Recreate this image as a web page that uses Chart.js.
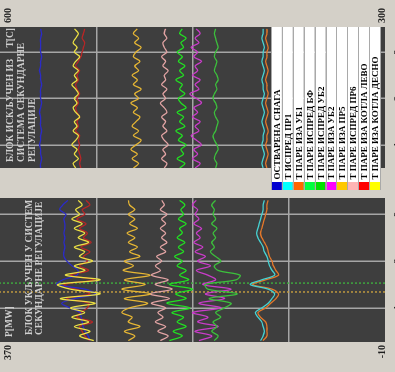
<!DOCTYPE html>
<html lang="sr">
<head>
<meta charset="utf-8">
<script src="https://cdn.jsdelivr.net/npm/chart.js@4.4.1/dist/chart.umd.min.js"></script>
<style>
html,body{margin:0;padding:0;width:395px;height:372px;overflow:hidden;background:#d4d0c8;}
#frame{position:absolute;left:0;top:0;width:372px;height:410px;transform-origin:0 0;transform:translate(0,372px) rotate(-90deg);}
#wrapOn{position:absolute;left:0;top:0;width:176px;height:410px;}
#wrapOff{position:absolute;left:176px;top:0;width:196px;height:410px;}
canvas{display:block;}
</style>
</head>
<body>
<div id="frame">
  <div id="wrapOn"><canvas id="chartOn" width="176" height="410"></canvas></div>
  <div id="wrapOff"><canvas id="chartOff" width="196" height="410"></canvas></div>
</div>
<script>
// ---- series names and colours (legend order) ----
const seriesLabels = [
  'ОСТВАРЕНА СНАГА',
  'Т ИСПРЕД ПР1',
  'Т ПАРЕ ИЗА УБ1',
  'Т ПАРЕ ИСПРЕД БФ',
  'Т ПАРЕ ИСПРЕД УБ2',
  'Т ПАРЕ ИЗА УБ2',
  'Т ПАРЕ ИЗА ПР5',
  'Т ПАРЕ ИСПРЕД ПР6',
  'Т ПАРЕ ИЗА КОТЛА ЛЕВО',
  'Т ПАРЕ ИЗА КОТЛА ДЕСНО'
];
const lineColors   = ['#2b2bc8','#46d2d2','#e4782a','#3cbf3c','#22e022','#c93cc9','#e6b634','#e2a4a4','#b82626','#ece044'];
const swatchColors = ['#0000d0','#00ffff','#ff6600','#00ff40','#00e000','#ff00ff','#ffc800','#ffb4b4','#ff0000','#ffff00'];

// ---- time axis ----
const timeTicks = [1, 2, 3];
const timeOn  = [0.3,0.4,0.5,0.6,0.7,0.8,0.9,1.0,1.1,1.2,1.3,1.4,1.5,1.6,1.7,1.8,1.9,2.0,2.1,2.2,2.3,2.4,2.5,2.6,2.7,2.8,2.9,3.0,3.1,3.2,3.3];
const timeOff = [0.5,0.6,0.7,0.8,0.9,1.0,1.1,1.2,1.3,1.4,1.5,1.6,1.7,1.8,1.9,2.0,2.1,2.2,2.3,2.4,2.5,2.6,2.7,2.8,2.9,3.0,3.1,3.2,3.3,3.4,3.5];
const markerTimes  = [1.34, 1.53];
const markerColors = ['#c8a040', '#3fae3f'];

// ---- value axes ----
const powerTicks = [-10, 85, 180, 275, 370];
const tempTicks  = [300, 375, 450, 525, 600];

// ---- block in secondary regulation ----
const powerOn   = [281,283,286,288,289,290,291,301,309,296,276,286,314,308,294,293,299,304,307,307,306,307,306,307,306,306,307,305,311,308,303];
const tPr1On    = [397,395,394,395,396,399,401,396,391,388,386,391,405,396,386,388,390,391,392,394,395,397,399,400,399,398,397,396,395,395,394];
const tUb1On    = [395,392,392,392,393,397,399,393,389,385,383,388,403,393,383,385,387,388,390,391,392,394,396,397,396,395,394,393,392,392,391];
const tBfOn     = [433,430,435,431,434,428,432,425,420,437,415,438,440,416,413,430,433,428,432,436,433,435,432,434,431,435,432,434,433,435,432];
const tUb2InOn  = [468,458,465,455,462,457,466,452,470,455,463,450,468,453,460,455,462,458,464,457,461,456,462,458,460,455,461,457,459,456,460];
const tUb2OutOn = [445,435,448,430,446,438,450,428,445,425,440,420,442,432,438,447,436,446,440,448,442,449,444,447,443,449,445,448,446,450,447];
const tPr5On    = [500,495,503,491,500,497,505,499,485,503,483,505,487,503,483,504,496,503,491,499,493,500,495,501,493,499,495,500,495,499,500];
const tPr6On    = [475,469,477,471,479,473,477,471,482,468,483,466,479,469,482,475,479,474,478,471,475,470,474,471,475,471,474,470,475,472,474];
const tLeftOn   = [530,534,536,538,528,540,537,532,531,548,530,541,550,527,545,531,538,532,535,530,537,529,535,532,538,533,540,534,536,530,533];
const tRightOn  = [527,538,530,542,531,544,534,545,526,553,522,545,555,522,549,534,542,528,538,534,542,531,539,534,542,536,544,538,541,536,539];

// ---- block out of secondary regulation ----
const powerOff   = [330,330,329,330,330,331,330,330,329,330,330,330,331,330,329,330,330,330,329,330,330,331,330,330,329,330,330,330,330,329,330];
const tPr1Off    = [395,396,395,394,395,396,395,395,394,395,396,395,394,395,396,395,394,395,395,396,395,394,395,396,395,395,394,395,396,395,395];
const tUb1Off    = [392,393,392,391,392,393,392,392,391,392,393,392,391,392,393,392,391,392,392,393,392,391,392,393,392,392,391,392,393,392,392];
const tBfOff     = [432,431,433,432,430,431,433,434,432,431,430,432,433,431,432,434,433,431,432,430,431,433,432,431,433,432,430,431,432,433,432];
const tUb2InOff  = [460,456,462,457,459,455,461,458,463,456,460,457,462,455,459,461,456,460,458,463,457,460,456,461,458,462,457,459,455,460,458];
const tUb2OutOff = [448,444,450,446,449,443,447,451,445,448,444,450,446,449,443,447,452,445,448,444,450,446,448,443,449,446,451,445,448,444,447];
const tPr5Off    = [496,492,497,493,498,494,490,496,492,497,494,491,496,493,498,492,495,490,496,493,497,492,495,491,496,494,490,495,492,496,493];
const tPr6Off    = [472,470,474,471,473,469,472,474,470,473,471,474,470,472,475,471,473,470,474,471,472,469,473,471,474,470,472,473,470,472,471];
const tLeftOff   = [537,538,537,538,539,538,539,538,541,539,540,538,540,541,539,540,538,540,541,539,540,538,541,539,537,536,535,534,536,535,534];
const tRightOff  = [541,543,539,542,540,544,541,539,543,540,542,538,541,543,540,542,539,541,544,540,542,539,543,541,538,542,540,543,541,539,542];

const seriesOn  = [powerOn,  tPr1On,  tUb1On,  tBfOn,  tUb2InOn,  tUb2OutOn,  tPr5On,  tPr6On,  tLeftOn,  tRightOn];
const seriesOff = [powerOff, tPr1Off, tUb1Off, tBfOff, tUb2InOff, tUb2OutOff, tPr5Off, tPr6Off, tLeftOff, tRightOff];

function buildSets(times, series) {
  return series.map((vals, i) => ({
    label: seriesLabels[i],
    data: vals.map((v, k) => ({ x: times[k], y: v })),
    yAxisID: i === 0 ? 'yP' : 'yT',
    borderColor: lineColors[i],
    borderWidth: 1.3,
    pointRadius: 0,
    tension: 0.35,
    fill: false,
    // right-hand boiler outlet drawn above the left-hand one
    order: i === 9 ? -1 : 0
  }));
}

function markerSets() {
  return markerTimes.map((t, i) => ({
    label: '',
    isMarker: true,
    data: [{ x: t, y: powerTicks[0] }, { x: t, y: powerTicks[powerTicks.length - 1] }],
    yAxisID: 'yP',
    borderColor: markerColors[i],
    borderWidth: 1.4,
    borderDash: [2, 2],
    pointRadius: 0
  }));
}

const SERIF = '"Liberation Serif", "DejaVu Serif", serif';

// dark plot, notes, end labels of the value axis and the legend table
const panelDeco = {
  id: 'panelDeco',
  beforeDraw(chart) {
    const { ctx, chartArea: a } = chart;
    ctx.save();
    ctx.fillStyle = '#3e3e3e';
    ctx.fillRect(a.left, a.top, a.right - a.left, a.bottom - a.top);
    ctx.restore();
  },
  afterDraw(chart, args, o) {
    const { ctx, chartArea: a } = chart;
    ctx.save();
    ctx.font = 'bold 9.5px ' + SERIF;
    ctx.fillStyle = '#cfcfcf';
    ctx.textBaseline = 'alphabetic';
    (o.notes || []).forEach(n => {
      ctx.textAlign = n.align;
      const x = n.align === 'right' ? a.right - n.dx : a.left + n.dx;
      ctx.fillText(n.text, x, a.top + n.dy);
    });
    const s = chart.scales[o.axisId];
    ctx.font = 'bold 10px ' + SERIF;
    ctx.fillStyle = '#1e1e1e';
    const onLeft = s.position === 'left';
    ctx.textAlign = onLeft ? 'right' : 'left';
    const lx = onLeft ? a.left - 3 : a.right + 4;
    ctx.textBaseline = 'top';
    ctx.fillText(String(s.max), lx, s.getPixelForValue(s.max) + 3);
    ctx.textBaseline = 'bottom';
    ctx.fillText(String(s.min), lx, s.getPixelForValue(s.min) + 2);
    if (o.legend) {
      const sets = chart.data.datasets.filter(d => !d.isMarker);
      const rowH = 10.9;
      const top = a.bottom - 5 - sets.length * rowH;
      const swL = a.left - 22, cellL = a.left - 14, cellR = a.right;
      sets.forEach((d, i) => {
        const y = top + i * rowH;
        ctx.fillStyle = swatchColors[i];
        ctx.fillRect(swL, y, cellL - swL, rowH);
        ctx.fillStyle = '#ffffff';
        ctx.fillRect(cellL, y, cellR - cellL, rowH);
      });
      ctx.strokeStyle = '#a9a9a9';
      ctx.lineWidth = 1;
      for (let i = 0; i <= sets.length; i++) {
        const y = Math.round(top + i * rowH) + 0.5;
        ctx.beginPath(); ctx.moveTo(swL, y); ctx.lineTo(cellR, y); ctx.stroke();
      }
      ctx.font = 'bold 9px ' + SERIF;
      ctx.fillStyle = '#000000';
      ctx.textAlign = 'left';
      ctx.textBaseline = 'alphabetic';
      sets.forEach((d, i) => {
        ctx.fillText(d.label, cellL + 2.5, top + (i + 1) * rowH - 2);
      });
    }
    ctx.restore();
  }
};

function gridColor(c) {
  return (c.index === 0 || c.index === 4) ? 'rgba(0,0,0,0)' : '#a6a6a6';
}

function makeChart(id, times, series, cfg) {
  const datasets = buildSets(times, series).concat(cfg.markers ? markerSets() : []);
  const fitWidth = s => { s.width = s.options.display ? cfg.axisWidth : 0; };
  return new Chart(document.getElementById(id), {
    type: 'line',
    data: { datasets },
    options: {
      responsive: false,
      animation: false,
      devicePixelRatio: 1,
      layout: { padding: cfg.padding },
      plugins: {
        legend: { display: false },
        tooltip: { enabled: false },
        panelDeco: { notes: cfg.notes, axisId: cfg.axisId, legend: cfg.legend }
      },
      scales: {
        x: {
          type: 'linear',
          min: cfg.tMin, max: cfg.tMax,
          afterBuildTicks: s => { s.ticks = timeTicks.map(v => ({ value: v })); },
          afterFit: s => { s.height = 25; },
          grid: { color: '#a6a6a6', lineWidth: 1.5, drawTicks: false },
          border: { display: false },
          ticks: { display: true, padding: 7, color: '#1e1e1e', font: { family: SERIF, size: 10, weight: 'bold' } }
        },
        yP: {
          type: 'linear', position: 'left',
          display: cfg.axisId === 'yP',
          min: powerTicks[0], max: powerTicks[powerTicks.length - 1],
          afterBuildTicks: s => { s.ticks = powerTicks.map(v => ({ value: v })); },
          afterFit: fitWidth,
          grid: { color: gridColor, lineWidth: 1.5, drawTicks: false },
          border: { display: false },
          ticks: { display: false }
        },
        yT: {
          type: 'linear', position: 'right',
          display: cfg.axisId === 'yT',
          min: tempTicks[0], max: tempTicks[tempTicks.length - 1],
          afterBuildTicks: s => { s.ticks = tempTicks.map(v => ({ value: v })); },
          afterFit: fitWidth,
          grid: { color: gridColor, lineWidth: 1.5, drawTicks: false },
          border: { display: false },
          ticks: { display: false }
        }
      }
    },
    plugins: [panelDeco]
  });
}

makeChart('chartOn', timeOn, seriesOn, {
  tMin: 0.27, tMax: 3.35,
  axisId: 'yP', axisWidth: 30,
  padding: { left: 0, right: 2, top: 0, bottom: 0 },
  markers: true, legend: false,
  notes: [
    { text: 'P[MW]', dx: 5, dy: 12, align: 'left' },
    { text: 'БЛОК УКЉУЧЕН У СИСТЕМ', dx: 7, dy: 32, align: 'left' },
    { text: 'СЕКУНДАРНЕ РЕГУЛАЦИЈЕ', dx: 7, dy: 42, align: 'left' }
  ]
});

makeChart('chartOff', timeOff, seriesOff, {
  tMin: 0.5, tMax: 3.54,
  axisId: 'yT', axisWidth: 27,
  padding: { left: 28, right: 0, top: 0, bottom: 0 },
  markers: false, legend: true,
  notes: [
    { text: 'T[C]', dx: 1, dy: 13, align: 'right' },
    { text: 'БЛОК ИСКЉУЧЕН ИЗ', dx: 6, dy: 13, align: 'left' },
    { text: 'СИСТЕМА СЕКУНДАРНЕ', dx: 6, dy: 24, align: 'left' },
    { text: 'РЕГУЛАЦИЈЕ', dx: 6, dy: 35, align: 'left' }
  ]
});
</script>
</body>
</html>
